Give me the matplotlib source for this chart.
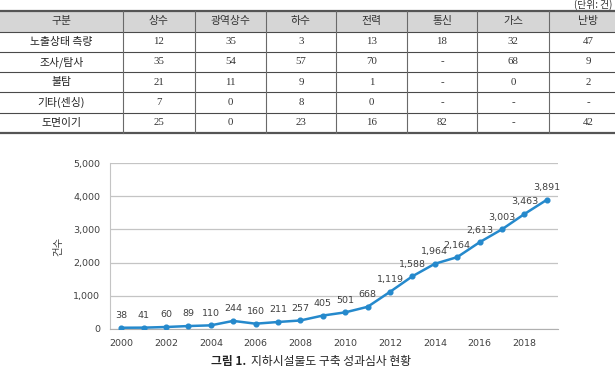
import matplotlib
matplotlib.use("Agg")
import matplotlib.pyplot as plt
from matplotlib.ticker import FuncFormatter

plt.rcParams['font.family'] = ['Noto Sans CJK KR', 'DejaVu Sans']

# table data
headers = ['구분', '상수', '광역상수', '하수', '전력', '통신', '가스', '난방']
row_names = ['노출상태 측량', '조사/탐사', '불탐', '기타(센싱)', '도면이기']
row_values = [
    ['12', '35', '3', '13', '18', '32', '47'],
    ['35', '54', '57', '70', '-', '68', '9'],
    ['21', '11', '9', '1', '-', '0', '2'],
    ['7', '0', '8', '0', '-', '-', '-'],
    ['25', '0', '23', '16', '82', '-', '42'],
]

# chart data
years = list(range(2000, 2020))
counts = [38, 41, 60, 89, 110, 244, 160, 211, 257, 405,
          501, 668, 1119, 1588, 1964, 2164, 2613, 3003, 3463, 3891]

W, H = 615, 368
fig = plt.figure(figsize=(W / 100, H / 100), dpi=100)

# ---- table, drawn in pixel space ----
tab = fig.add_axes([0, 0, 1, 1])
tab.set_xlim(0, W)
tab.set_ylim(H, 0)
tab.axis('off')

col_edges = [0, 123, 195, 266, 336, 407, 477, 549, 627]
row_edges = [10.5, 31.5, 51.7, 72, 92.3, 112.7, 133]

tab.fill_between([0, W], row_edges[0], row_edges[1], color='#d6d6d6', lw=0)
for i, y in enumerate(row_edges):
    if i == 0 or i == len(row_edges) - 1:
        tab.plot([0, W], [y, y], color='#555555', lw=1.6, solid_capstyle='butt')
    else:
        tab.plot([0, W], [y, y], color='#4a4a4a', lw=0.8)
for x in col_edges[1:-1]:
    tab.plot([x, x], [row_edges[0], row_edges[-1]], color='#6a6a6a', lw=0.8)

def cx(j):
    return (col_edges[j] + col_edges[j + 1]) / 2

def cy(i):
    return (row_edges[i] + row_edges[i + 1]) / 2

for j, h in enumerate(headers):
    tab.text(cx(j), cy(0), h, ha='center', va='center', fontsize=7.8, color='#333333')
for i, name in enumerate(row_names):
    tab.text(cx(0), cy(i + 1), name, ha='center', va='center', fontsize=7.8, color='#222222')
    for j, v in enumerate(row_values[i]):
        tab.text(cx(j + 1), cy(i + 1), v, ha='center', va='center', fontsize=7.8,
                 color='#333333', family=['Liberation Serif', 'DejaVu Serif'])

tab.text(612, 5, '(단위: 건)', ha='right', va='center', fontsize=7, color='#333333')

# caption
tab.text(246, 361, '그림 1.', ha='right', va='center', fontsize=8.5,
         fontweight='bold', color='#222222')
tab.text(251, 361, '지하시설물도 구축 성과심사 현황', ha='left', va='center',
         fontsize=8.5, color='#222222')

# ---- line chart ----
ax = fig.add_axes([110 / W, (H - 329) / H, (558 - 110) / W, (329 - 163) / H])
ax.plot(years, counts, color='#2589cc', lw=1.8, marker='o', markersize=3.4, zorder=3)
for x, v in zip(years, counts):
    ax.annotate(f'{v:,}', (x, v), xytext=(0, 5.5), textcoords='offset points',
                ha='center', va='bottom', fontsize=6.8, color='#404040',
                family='DejaVu Sans')

ax.set_xlim(1999.5, 2019.5)
ax.set_ylim(0, 5000)
ax.set_xticks(range(2000, 2019, 2))
ax.set_yticks(range(0, 5001, 1000))
ax.yaxis.set_major_formatter(FuncFormatter(lambda v, p: f'{int(v):,}'))
ax.grid(axis='y', color='#c4c4c4', lw=0.9)
ax.set_axisbelow(True)
for s in ['top', 'right']:
    ax.spines[s].set_visible(False)
ax.spines['left'].set_color('#c4c4c4')
ax.spines['bottom'].set_color('#b0b0b0')
ax.tick_params(length=0, labelsize=6.8, colors='#404040', pad=7)
for lbl in ax.get_xticklabels() + ax.get_yticklabels():
    lbl.set_family('DejaVu Sans')
ax.set_ylabel('건수', fontsize=7.5, color='#404040', labelpad=7)

fig.savefig('out.png', dpi=100)
